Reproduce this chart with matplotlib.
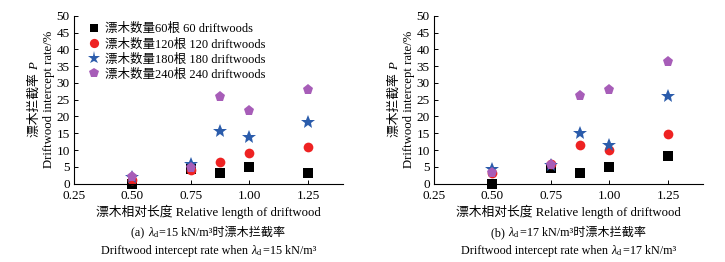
import matplotlib
matplotlib.use("Agg")
import matplotlib.pyplot as plt
from matplotlib.lines import Line2D

plt.rcParams['font.family'] = ['Liberation Serif', 'Noto Sans CJK SC']
plt.rcParams['mathtext.fontset'] = 'custom'
plt.rcParams['mathtext.rm'] = 'Liberation Serif'
plt.rcParams['mathtext.it'] = 'Liberation Serif:italic'

x_len = [0.5, 0.75, 0.875, 1.0, 1.25]

# panel (a) lambda_d = 15
a_60 = [0.0, 4.3, 3.2, 4.9, 3.2]
a_120 = [1.0, 4.0, 6.5, 9.1, 10.8]
a_180 = [2.0, 6.0, 15.6, 13.9, 18.3]
a_240 = [2.0, 4.6, 25.8, 21.7, 27.9]

# panel (b) lambda_d = 17
b_60 = [0.0, 4.8, 3.2, 4.9, 8.3]
b_120 = [3.2, 5.8, 11.6, 9.9, 14.9]
b_180 = [4.4, 5.6, 15.0, 11.6, 26.1]
b_240 = [3.3, 5.5, 26.2, 27.9, 36.3]

legend_labels = ['漂木数量60根 60 driftwoods', '漂木数量120根 120 driftwoods',
                 '漂木数量180根 180 driftwoods', '漂木数量240根 240 driftwoods']
xticks = [0.25, 0.50, 0.75, 1.00, 1.25]
yticks = list(range(0, 51, 5))

styles = [dict(marker='s', color='#000000', ms=6.5),
          dict(marker='o', color='#ee2222', ms=7),
          dict(marker='*', color='#2b5cab', ms=10),
          dict(marker='p', color='#a75db8', ms=8)]

W, H = 725, 262
fig = plt.figure(figsize=(W / 100, H / 100), dpi=100)

def axrect(l, r, t, b):
    return [l / W, 1 - b / H, (r - l) / W, (b - t) / H]

ax1 = fig.add_axes(axrect(74, 343, 15.7, 183.7))
ax2 = fig.add_axes(axrect(434, 703, 15.7, 183.7))

for ax, data in [(ax1, [a_60, a_120, a_180, a_240]), (ax2, [b_60, b_120, b_180, b_240])]:
    for ys, st in zip(data, styles):
        ax.plot(x_len, ys, linestyle='none', marker=st['marker'], color=st['color'],
                markersize=st['ms'], markeredgewidth=0, clip_on=False)
    ax.set_xlim(0.25, 1.40)
    ax.set_ylim(0, 50)
    ax.set_xticks(xticks)
    ax.set_xticklabels([f'{v:.2f}' for v in xticks])
    ax.set_yticks(yticks)
    ax.tick_params(direction='in', length=3, width=0.7, labelsize=9.5)
    ax.tick_params(axis='x', pad=4.5)
    ax.tick_params(axis='y', pad=3)
    ax.spines['top'].set_visible(False)
    ax.spines['right'].set_visible(False)
    for s in ('left', 'bottom'):
        ax.spines[s].set_linewidth(0.8)
    ax.set_facecolor('none')

handles = [Line2D([], [], linestyle='none', marker=st['marker'], color=st['color'],
                  markersize=st['ms'] * 0.95, markeredgewidth=0) for st in styles]
ax1.legend(handles, legend_labels, loc='upper left', bbox_to_anchor=(0.045, 0.97),
           frameon=False, fontsize=9, handlelength=0.9, handletextpad=0.4,
           labelspacing=0.24, borderaxespad=0.0, borderpad=0.2)

fig.canvas.draw()
renderer = fig.canvas.get_renderer()

def place_line(pieces, xc, yc, size):
    """Horizontal pieces centred at (xc, yc) in pixels from top-left."""
    arts = [fig.text(0, 0, txt, fontsize=size, ha='left', va='baseline', transform=None, **kw)
            for txt, kw in pieces]
    widths = [t.get_window_extent(renderer).width for t in arts]
    pos = -sum(widths) / 2
    for t, w in zip(arts, widths):
        t.set_position((xc + pos, H - yc))
        pos += w
    return arts

def place_vline(pieces, xb, yc, size):
    """Rotated pieces; baseline vertical at x = xb, centred vertically at yc (px from top)."""
    arts = [fig.text(0, 0, txt, fontsize=size, rotation=90, rotation_mode='anchor',
                     ha='left', va='baseline', transform=None, **kw)
            for txt, kw in pieces]
    lens = [t.get_window_extent(renderer).height for t in arts]
    pos = -sum(lens) / 2
    for t, l in zip(arts, lens):
        t.set_position((xb, (H - yc) + pos))
        pos += l
    return arts

for ax_left, ax_right, letter, lam in [(74, 343, 'a', '15'), (434, 703, 'b', '17')]:
    xc = (ax_left + ax_right) / 2
    place_line([('漂木相对长度 Relative length of driftwood', {})], xc, 216, 9.2)
    place_line([(f'({letter}) ', {}), (r'$\lambda_\mathrm{d}$', {}),
                (f'={lam} kN/m³时漂木拦截率', {})], xc, 236, 8.7)
    place_line([('Driftwood intercept rate when ', {}), (r'$\lambda_\mathrm{d}$', {}),
                (f'={lam} kN/m³', {})], xc, 254, 8.7)
    # y labels (rotated)
    place_vline([('漂木拦截率 ', {}), ('P', {'style': 'italic'})], ax_left - 36, 100, 9.2)
    place_vline([('Driftwood intercept rate/%', {})], ax_left - 22, 99, 9.2)

fig.savefig('out.png', dpi=100)
